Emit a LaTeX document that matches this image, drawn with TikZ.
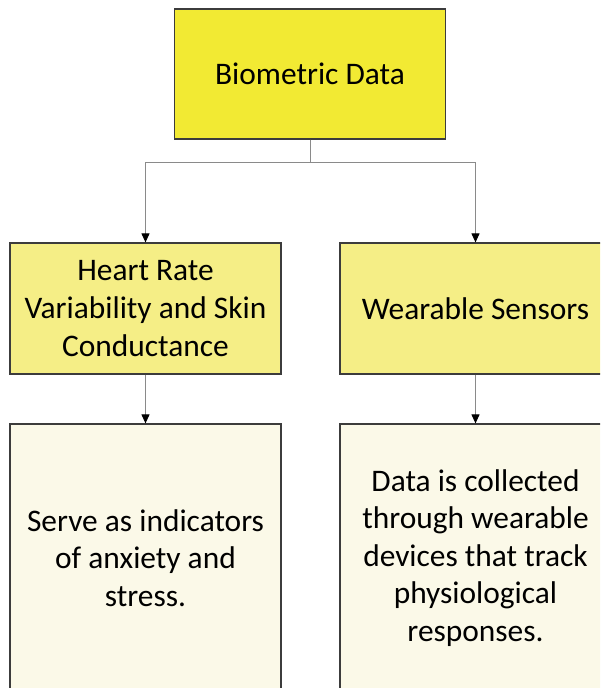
\documentclass[tikz,border=0pt]{standalone}
\usepackage{fontspec}
\setmainfont{Carlito}
\usetikzlibrary{arrows.meta}

\definecolor{amarilloA}{HTML}{F2EA33}
\definecolor{amarilloB}{HTML}{F5EE86}
\definecolor{crema}{HTML}{FBF9E8}
\definecolor{borde}{HTML}{3C3C3C}
\definecolor{gris}{HTML}{8A8A8A}

\begin{document}
\begin{tikzpicture}[x = 1pt, y = -1pt]
\useasboundingbox (0,0) rectangle (600,688);
\clip (0,0) rectangle (600,688);
\fill[white] (0,0) rectangle (600,688);

% Nodos
\begin{scope}[
		every node/.style = {shape = rectangle, draw = borde,
		line width = 1.2pt, align = center, inner sep = 0pt,
		minimum width = 271pt,
		font = \fontsize{31.4}{37.6}\selectfont}]
	\node[fill = amarilloA, minimum height = 130pt] (B) at (310,74) {Biometric Data};
	\node[fill = amarilloB, minimum height = 131pt] (H) at (145.5,308.5) {Heart Rate\\Variability and Skin\\Conductance};
	\node[fill = amarilloB, minimum height = 131pt] (W) at (475.5,308.5) {Wearable Sensors};
	\node[fill = crema, minimum height = 268pt] (S) at (145.5,558) {Serve as indicators\\of anxiety and\\stress.};
	\node[fill = crema, minimum height = 268pt] (D) at (475.5,558) {Data is collected\\through wearable\\devices that track\\physiological\\responses.};
\end{scope}

% Paths
\begin{scope}[
		every path/.style = {draw = gris, line width = 1pt,
		-{Triangle[width = 8pt, length = 9pt, color = black]}}]
	\draw (B.south) -- ++(0,23) -| (H.north);
	\draw (B.south) -- ++(0,23) -| (W.north);
	\draw (H) -- (S);
	\draw (W) -- (D);
\end{scope}
\end{tikzpicture}
\end{document}
